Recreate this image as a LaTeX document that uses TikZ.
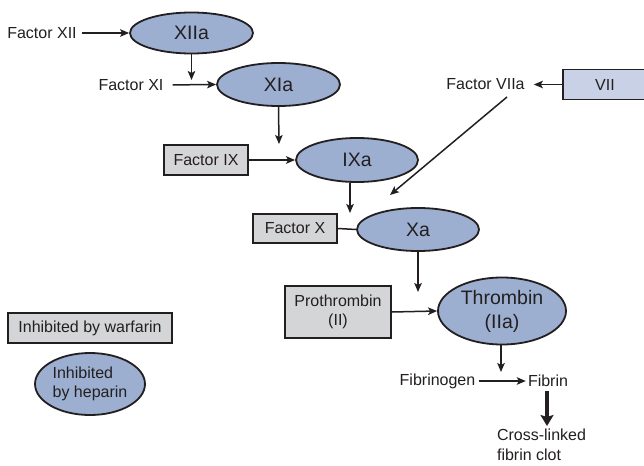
\documentclass[tikz,border=0pt]{standalone}
\usepackage{fontspec}
\setmainfont{Liberation Sans}
\usetikzlibrary{shapes.geometric,arrows.meta}
\definecolor{ink}{HTML}{231F20}
\definecolor{enzfill}{HTML}{9CAFD0}
\definecolor{boxfill}{HTML}{D4D5D7}
\definecolor{zymfill}{HTML}{C9D1E6}
\tikzset{
  lbl/.style={font=\fontsize{16}{19}\selectfont, text=ink, inner sep=0pt},
  enz/.style={ellipse, draw=ink, line width=1.8pt, fill=enzfill, inner sep=0pt,
    font=\fontsize{19.5}{24}\selectfont, text=ink, align=center},
  gbox/.style={rectangle, draw=ink, line width=1.8pt, fill=boxfill, inner sep=0pt,
    font=\fontsize{16}{19}\selectfont, text=ink, align=center},
  flow/.style={-{Stealth[length=9pt,width=7.5pt,inset=2pt]}, line width=1.5pt, draw=ink},
  bigflow/.style={-{Stealth[length=11pt,width=13pt,inset=2pt]}, line width=4pt, draw=ink},
  link/.style={line width=1.5pt, draw=ink},
}
\begin{document}
\begin{tikzpicture}[x=1pt,y=-1pt]
\useasboundingbox (0,0) rectangle (644,465);
\fill[white] (0,0) rectangle (644,465);

% intrinsic pathway
\node[lbl] (fxii) at (42,33) {Factor XII};
\node[enz, minimum width=123pt, minimum height=41pt] (xiia) at (191.5,33) {XIIa};
\coordinate (j1) at (191.5,80);
\node[lbl] (fxi) at (131,85) {Factor XI};
\node[enz, minimum width=123pt, minimum height=43pt] (xia) at (278.5,84.5) {XIa};
\coordinate (j2) at (279,144);
\node[gbox, minimum width=84pt, minimum height=30pt] (fix) at (206,160) {Factor IX};
\node[enz, minimum width=122pt, minimum height=44pt] (ixa) at (357,160) {IXa};
\coordinate (j3) at (350,213);
\node[gbox, minimum width=84pt, minimum height=29pt] (fx) at (295,228.5) {Factor X};
\node[enz, minimum width=122pt, minimum height=43pt] (xa) at (418,229.5) {Xa};
\coordinate (j4) at (418,292);

% extrinsic pathway
\node[gbox, fill=zymfill, minimum width=84pt, minimum height=30pt] (vii) at (605,84.5) {VII};
\node[lbl] (viia) at (485.5,84.5) {Factor VIIa};
\coordinate (v0) at (507,97);
\coordinate (v1) at (390,195);

% common pathway
\node[gbox, minimum width=106pt, minimum height=52pt] (proth) at (338,312) {Prothrombin\\(II)};
\node[enz, minimum width=128pt, minimum height=67pt] (thr) at (502,311) {Thrombin\\(IIa)};
\coordinate (j5) at (501,372);
\node[lbl] (fbg) at (437.5,381) {Fibrinogen};
\node[lbl] (fib) at (548,381) {Fibrin};
\coordinate (j6) at (547,426);
\node[lbl, align=left, font=\fontsize{16}{20}\selectfont] (clot) at (541.5,445) {Cross-linked\\fibrin clot};

% legend
\node[gbox, minimum width=164pt, minimum height=30pt] (warf) at (90,328) {Inhibited by warfarin};
\node[enz, minimum width=110pt, minimum height=62pt, align=left,
  font=\fontsize{16}{19}\selectfont] (hep) at (90,384) {Inhibited\\by heparin};

% connectors
\draw[flow] (fxii.east) ++(5,0) -- (xiia.west);
\draw[flow] (xiia.south) -- (j1);
\draw[flow, shorten <=9pt] (fxi.east) -- (xia.west);
\draw[flow] (xia.south) -- (j2);
\draw[flow] (fix.east) -- (ixa.west);
\draw[flow] (j3 |- ixa.south) -- (j3);
\draw[link] (fx.east) -- (xa.west);
\draw[flow] (xa.south) -- (j4);
\draw[flow, shorten >=9pt] (vii.west) -- (viia.east);
\draw[flow] (v0) -- (v1);
\draw[flow] (proth.east) -- (thr.west);
\draw[flow] (thr.south -| j5) -- (j5);
\draw[flow, shorten <=3pt, shorten >=2pt] (fbg.east) -- (fib.west);
\draw[bigflow] (fib.south -| j6) ++(0,4) -- (j6);
\end{tikzpicture}
\end{document}
